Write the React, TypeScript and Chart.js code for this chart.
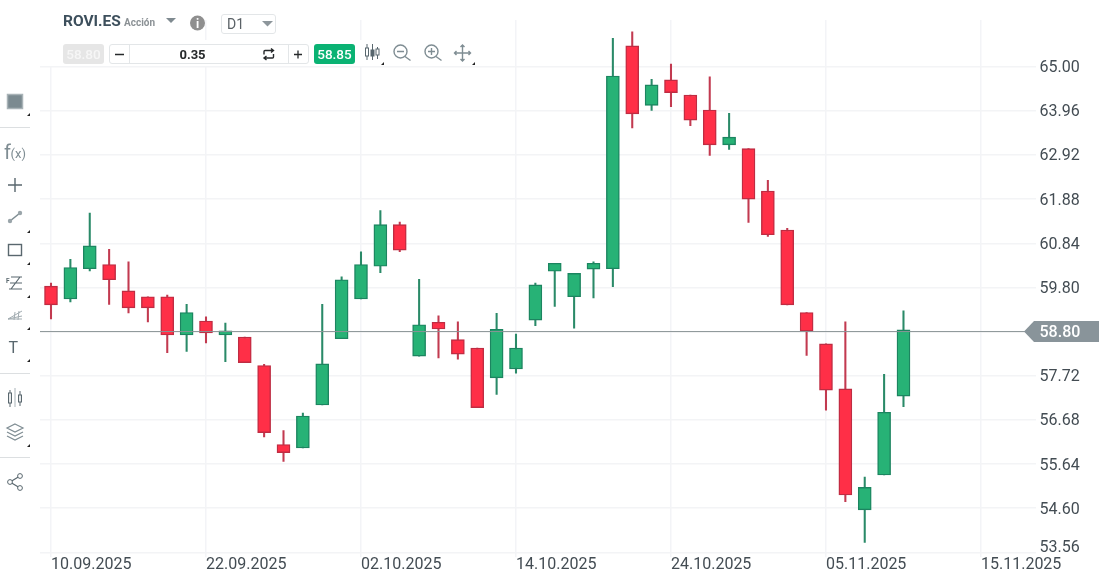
import { useEffect, useRef } from 'react'
import { Chart, registerables } from 'chart.js'

Chart.register(...registerables)

const opens = [59.83, 59.53, 60.24, 60.34, 59.72, 59.58, 59.58, 58.68, 59.01, 58.68, 58.63, 57.96, 56.1, 56.02, 57.03, 58.59, 59.53, 60.3, 61.28, 58.18, 58.98, 58.57, 58.37, 57.67, 57.88, 59.03, 60.18, 59.58, 60.23, 60.24, 65.49, 64.09, 64.69, 64.33, 63.98, 63.16, 63.07, 62.07, 61.15, 59.21, 58.47, 57.41, 54.56, 55.38, 57.24]
const closes = [59.39, 60.27, 60.78, 59.98, 59.32, 59.32, 58.68, 59.21, 58.73, 58.78, 58.03, 56.38, 55.91, 56.77, 58.0, 59.98, 60.34, 61.28, 60.68, 58.92, 58.82, 58.23, 56.97, 58.81, 58.37, 59.86, 60.37, 60.13, 60.37, 64.78, 63.89, 64.57, 64.39, 63.74, 63.16, 63.34, 61.88, 61.04, 59.39, 58.77, 57.38, 54.91, 55.09, 56.86, 58.8]
const highs = [59.9, 60.46, 61.55, 60.7, 60.4, 59.58, 59.62, 59.4, 59.11, 58.96, 58.63, 57.99, 56.43, 56.84, 59.4, 60.05, 60.64, 61.61, 61.34, 59.99, 59.13, 58.99, 58.37, 59.19, 58.7, 59.9, 60.37, 60.13, 60.4, 65.67, 65.82, 64.7, 65.06, 64.33, 64.76, 63.9, 63.07, 62.32, 61.19, 59.21, 58.47, 58.99, 55.33, 57.75, 59.25]
const lows = [59.06, 59.46, 60.19, 59.4, 59.2, 58.99, 58.26, 58.29, 58.49, 58.05, 58.03, 56.28, 55.7, 56.02, 57.03, 58.59, 59.53, 60.15, 60.64, 58.18, 58.14, 58.11, 56.97, 57.28, 57.78, 58.9, 59.35, 58.84, 59.55, 59.82, 63.56, 63.97, 64.06, 63.61, 62.91, 63.05, 61.33, 61.0, 59.39, 58.2, 56.91, 54.75, 53.79, 55.38, 56.99]

const priceTicks = [65.0, 63.96, 62.92, 61.88, 60.84, 59.8, 58.76, 57.72, 56.68, 55.64, 54.6, 53.56]
const dateTicks = ['10.09.2025', '22.09.2025', '02.10.2025', '14.10.2025', '24.10.2025', '05.11.2025', '15.11.2025']
const daysPerDateTick = 8

// the current price sits on the 58.76 grid line in the original
const priceLineValue = 58.76
const priceLabel = '58.80'

const xMin = -0.568
const xMax = 50.53
const yMin = 53.56
const yMax = 66.1

const isUp = closes.map((c, i) => c >= opens[i])
const bodyColors = isUp.map((up) => (up ? '#27b276' : '#ff2f47'))
const bodyBorders = isUp.map((up) => (up ? '#1c8560' : '#bf2c42'))
const wickColors = isUp.map((up) => (up ? '#2a8a68' : '#c23a50'))

const pricePlugin = {
  id: 'priceTag',
  afterDraw(chart: any) {
    const { ctx, scales } = chart
    const y = scales.y.getPixelForValue(priceLineValue)
    ctx.save()
    ctx.fillStyle = '#89949a'
    ctx.beginPath()
    ctx.moveTo(1024, y)
    ctx.lineTo(1034, y - 10.5)
    ctx.lineTo(1099, y - 10.5)
    ctx.lineTo(1099, y + 10.5)
    ctx.lineTo(1034, y + 10.5)
    ctx.closePath()
    ctx.fill()
    ctx.font = '500 16px Roboto'
    ctx.textBaseline = 'middle'
    ctx.fillStyle = '#ffffff'
    ctx.fillText(priceLabel, 1039.5, y + 1)
    // the lowest label is pushed up so it stays clear of the date row
    ctx.font = '16px Roboto'
    ctx.fillStyle = '#434c53'
    ctx.fillText(yMin.toFixed(2), 1039.5, scales.y.getPixelForValue(yMin) - 4.5)
    ctx.restore()
  },
}

function Corner({ x, y }: { x: number; y: number }) {
  return <path d={`M${x} ${y}h3v-3z`} fill="#222" />
}

function LeftTools() {
  const grey = '#7f8d93'
  const dark = '#59676e'
  return (
    <svg width="40" height="582" style={{ position: 'absolute', left: 0, top: 0 }}>
      <rect x="7.5" y="94.5" width="15" height="14" fill="#7b8a90" stroke="#a9b3b7" strokeWidth="1.5" />
      <Corner x={27} y={116} />
      <line x1="0" x2="30" y1="127.5" y2="127.5" stroke="#dcdfe1" />

      <text x="4" y="159" fontFamily="Roboto" fontSize="20" fill={grey}>f</text>
      <text x="10.5" y="158" fontFamily="Roboto" fontSize="13" fill={grey}>(x)</text>

      <path d="M15 178v14M8 185h14" stroke={dark} strokeWidth="1.4" fill="none" />

      <path d="M10 221L20 213" stroke={grey} strokeWidth="1.6" />
      <circle cx="10" cy="221" r="2.2" fill="#9aa5aa" />
      <circle cx="20" cy="213" r="2.2" fill="#9aa5aa" />
      <Corner x={27} y={233} />

      <rect x="8.5" y="244.5" width="13" height="11" fill="none" stroke={dark} strokeWidth="1.4" />
      <Corner x={27} y={265} />

      <text x="6" y="283" fontFamily="Roboto" fontWeight="700" fontSize="6.5" fill={dark}>F</text>
      <path d="M11 277h11M10 283h12M9 289h13M11 289l9-12" stroke={dark} strokeWidth="1.2" fill="none" />
      <Corner x={27} y={298} />

      <path d="M8 319l14-8M8 319l14-3M8 319h14M15 312l-1 8M19 311l-1 9" stroke="#a2acb1" strokeWidth="1" fill="none" />
      <Corner x={27} y={330} />

      <text x="8.5" y="353" fontFamily="Roboto" fontSize="16" fill={dark}>T</text>
      <Corner x={27} y={362} />

      <line x1="0" x2="30" y1="373.5" y2="373.5" stroke="#dcdfe1" />

      <line x1="15" x2="15" y1="388" y2="407" stroke="#b8c0c4" strokeWidth="1.2" />
      <path d="M10 390v17M20 391v15" stroke={dark} strokeWidth="1" />
      <rect x="8.5" y="393" width="3" height="10" fill="#e8eaeb" stroke={dark} />
      <rect x="18.5" y="395" width="3" height="7" fill="#e8eaeb" stroke={dark} />

      <path d="M15 424l8 4-8 4-8-4zM7 432l8 4 8-4M7 436l8 4 8-4" stroke={grey} strokeWidth="1.2" fill="none" />
      <Corner x={27} y={447} />

      <line x1="0" x2="30" y1="457.5" y2="457.5" stroke="#dcdfe1" />

      <path d="M10 482l10-6M10 482l10 6" stroke={dark} strokeWidth="1.2" />
      <circle cx="10" cy="482" r="2.4" fill="#fff" stroke={dark} />
      <circle cx="20" cy="476" r="2.4" fill="#fff" stroke={dark} />
      <circle cx="20" cy="488" r="2.4" fill="#fff" stroke={dark} />
    </svg>
  )
}

function Header() {
  const box = { position: 'absolute', boxSizing: 'border-box', fontFamily: 'Roboto' } as const
  const grey = '#7f8d93'
  return (
    <>
      <div style={{ position: 'absolute', left: 45, top: 0, width: 15, height: 66, background: '#fff' }} />
      <div style={{ position: 'absolute', left: 45, top: 40, width: 433, height: 26, background: '#fff' }} />
      <div style={{ ...box, left: 63, top: 12, fontSize: 15.5, fontWeight: 700, color: '#3d4f5c', lineHeight: '19px' }}>ROVI.ES</div>
      <div style={{ ...box, left: 124, top: 16, fontSize: 10, fontWeight: 700, color: '#8b9195', lineHeight: '13px' }}>Acción</div>
      <div style={{ ...box, left: 221, top: 14, width: 55, height: 20, border: '1px solid #e3e6e8', borderRadius: 3, fontSize: 14, color: '#5a6166', lineHeight: '19px', paddingLeft: 5 }}>D1</div>
      <div style={{ ...box, left: 63, top: 44, width: 41, height: 20, background: '#e6e6e6', borderRadius: 3, color: '#f6f6f6', fontSize: 13.5, fontWeight: 500, lineHeight: '20px', textAlign: 'center' }}>58.80</div>
      <div style={{ ...box, left: 109, top: 44, width: 200, height: 20, border: '1px solid #e3e6e8', borderRadius: 3 }} />
      <div style={{ ...box, left: 129, top: 44, width: 1, height: 20, background: '#e3e6e8' }} />
      <div style={{ ...box, left: 288, top: 44, width: 1, height: 20, background: '#e3e6e8' }} />
      <div style={{ ...box, left: 130, top: 44, width: 125, height: 20, fontSize: 13, fontWeight: 700, color: '#26292b', lineHeight: '21px', textAlign: 'center' }}>0.35</div>
      <div style={{ ...box, left: 314, top: 44, width: 41, height: 20, background: '#0ab273', borderRadius: 3, color: '#fff', fontSize: 13.5, fontWeight: 500, lineHeight: '20px', textAlign: 'center' }}>58.85</div>
      <svg width="480" height="66" style={{ position: 'absolute', left: 0, top: 0 }}>
        <path d="M166 18h10l-5 5z" fill="#7f8a90" />
        <circle cx="197.5" cy="23" r="7.5" fill="#8f8f8f" />
        <text x="197.5" y="27.5" textAnchor="middle" fontFamily="Roboto" fontWeight="700" fontSize="12" fill="#fff">i</text>
        <path d="M262 21h11l-5.5 5.5z" fill="#8d969b" />

        <path d="M115 54.5h9M294 54.5h8M298 50.5v8" stroke="#26292b" strokeWidth="1.3" fill="none" />
        <path d="M264 54.5v-3a1 1 0 0 1 1-1h8.500M271 48.500l2.500 2-2.500 2M273.500 54v3a1 1 0 0 1-1 1h-8.500M266.500 56l-2.500 2 2.500 2" stroke="#26292b" strokeWidth="1.4" fill="none" />

        <path d="M367 44v16M372.5 44v16M377.5 47v12" stroke="#59676e" strokeWidth="1" />
        <rect x="365.5" y="48" width="3" height="8" fill="#fff" stroke="#59676e" />
        <rect x="371" y="50" width="3" height="6" fill="#59676e" stroke="#59676e" />
        <rect x="376" y="49" width="3" height="6" fill="#fff" stroke="#59676e" />
        <Corner x={381} y={65} />

        <g stroke={grey} strokeWidth="1.4" fill="none">
          <circle cx="400.5" cy="51.5" r="6.5" />
          <path d="M405 56.5l5.5 4M397 51.5h7" />
          <circle cx="431.5" cy="51.5" r="6.5" />
          <path d="M436 56.5l5.5 4M428 51.5h7M431.5 48v7" />
          <path d="M462.5 45v16M454.5 53h16M460.5 47l2-2 2 2M460.5 59l2 2 2-2M456.5 51l-2 2 2 2M468.5 51l2 2-2 2" />
        </g>
        <Corner x={472} y={65} />
      </svg>
    </>
  )
}

export default function App() {
  const chartRef = useRef<HTMLCanvasElement>(null)
  const chartInstance = useRef<Chart | null>(null)

  useEffect(() => {
    if (!chartRef.current) return
    const ctx = chartRef.current.getContext('2d')
    if (!ctx) return

    chartInstance.current = new Chart(ctx, {
      type: 'bar',
      data: {
        datasets: [
          {
            type: 'line',
            data: [
              { x: xMin, y: priceLineValue },
              { x: xMax, y: priceLineValue },
            ],
            borderColor: '#8a9496',
            borderWidth: 1,
            pointRadius: 0,
            order: 0,
          },
          {
            data: opens.map((o, i) => ({ x: i, y: [o, closes[i]] })),
            backgroundColor: bodyColors,
            borderColor: bodyBorders,
            borderWidth: 1.4,
            borderSkipped: false,
            barThickness: 13,
            grouped: false,
            order: 1,
          },
          {
            data: lows.map((l, i) => ({ x: i, y: [l, highs[i]] })),
            backgroundColor: wickColors,
            borderWidth: 0,
            barThickness: 1.4,
            grouped: false,
            order: 2,
          },
        ] as any,
      },
      options: {
        responsive: false,
        animation: false,
        layout: { padding: { left: 40, top: 20, right: 0, bottom: 0 } },
        plugins: { legend: { display: false }, tooltip: { enabled: false } },
        scales: {
          x: {
            type: 'linear',
            offset: false,
            min: xMin,
            max: xMax,
            border: { display: false },
            grid: { offset: false, color: '#f3f4f7', lineWidth: 1.5, tickLength: 5 },
            afterBuildTicks: (scale: any) => {
              scale.ticks = dateTicks.map((_, i) => ({ value: i * daysPerDateTick }))
            },
            afterFit: (scale: any) => {
              scale.height = 29.7
            },
            ticks: {
              autoSkip: false,
              maxRotation: 0,
              align: 'start',
              padding: -2,
              color: '#434c53',
              font: { family: 'Roboto', size: 16 },
              callback: (v: any) => dateTicks[Math.round(v / daysPerDateTick)],
            },
          },
          y: {
            position: 'right',
            min: yMin,
            max: yMax,
            border: { display: false },
            grid: { color: '#f3f4f6', lineWidth: 1.5, tickLength: 6 },
            afterBuildTicks: (scale: any) => {
              scale.ticks = priceTicks.map((value) => ({ value }))
            },
            afterFit: (scale: any) => {
              scale.width = 82
            },
            ticks: {
              padding: 3.5,
              labelOffset: 1.5,
              color: '#434c53',
              font: { family: 'Roboto', size: 16 },
              // 58.76 is covered by the price tag, 53.56 is drawn by the plugin
              callback: (v: any) => (v === priceLineValue || v === yMin ? '' : Number(v).toFixed(2)),
            },
          },
        },
      } as any,
      plugins: [pricePlugin],
    })

    return () => {
      if (chartInstance.current) {
        chartInstance.current.destroy()
      }
    }
  }, [])

  return (
    <div style={{ position: 'fixed', left: 0, top: 0, width: 1112, height: 582, background: '#fff', overflow: 'hidden' }}>
      <canvas ref={chartRef} width={1112} height={582} style={{ display: 'block' }} />
      <LeftTools />
      <Header />
    </div>
  )
}
